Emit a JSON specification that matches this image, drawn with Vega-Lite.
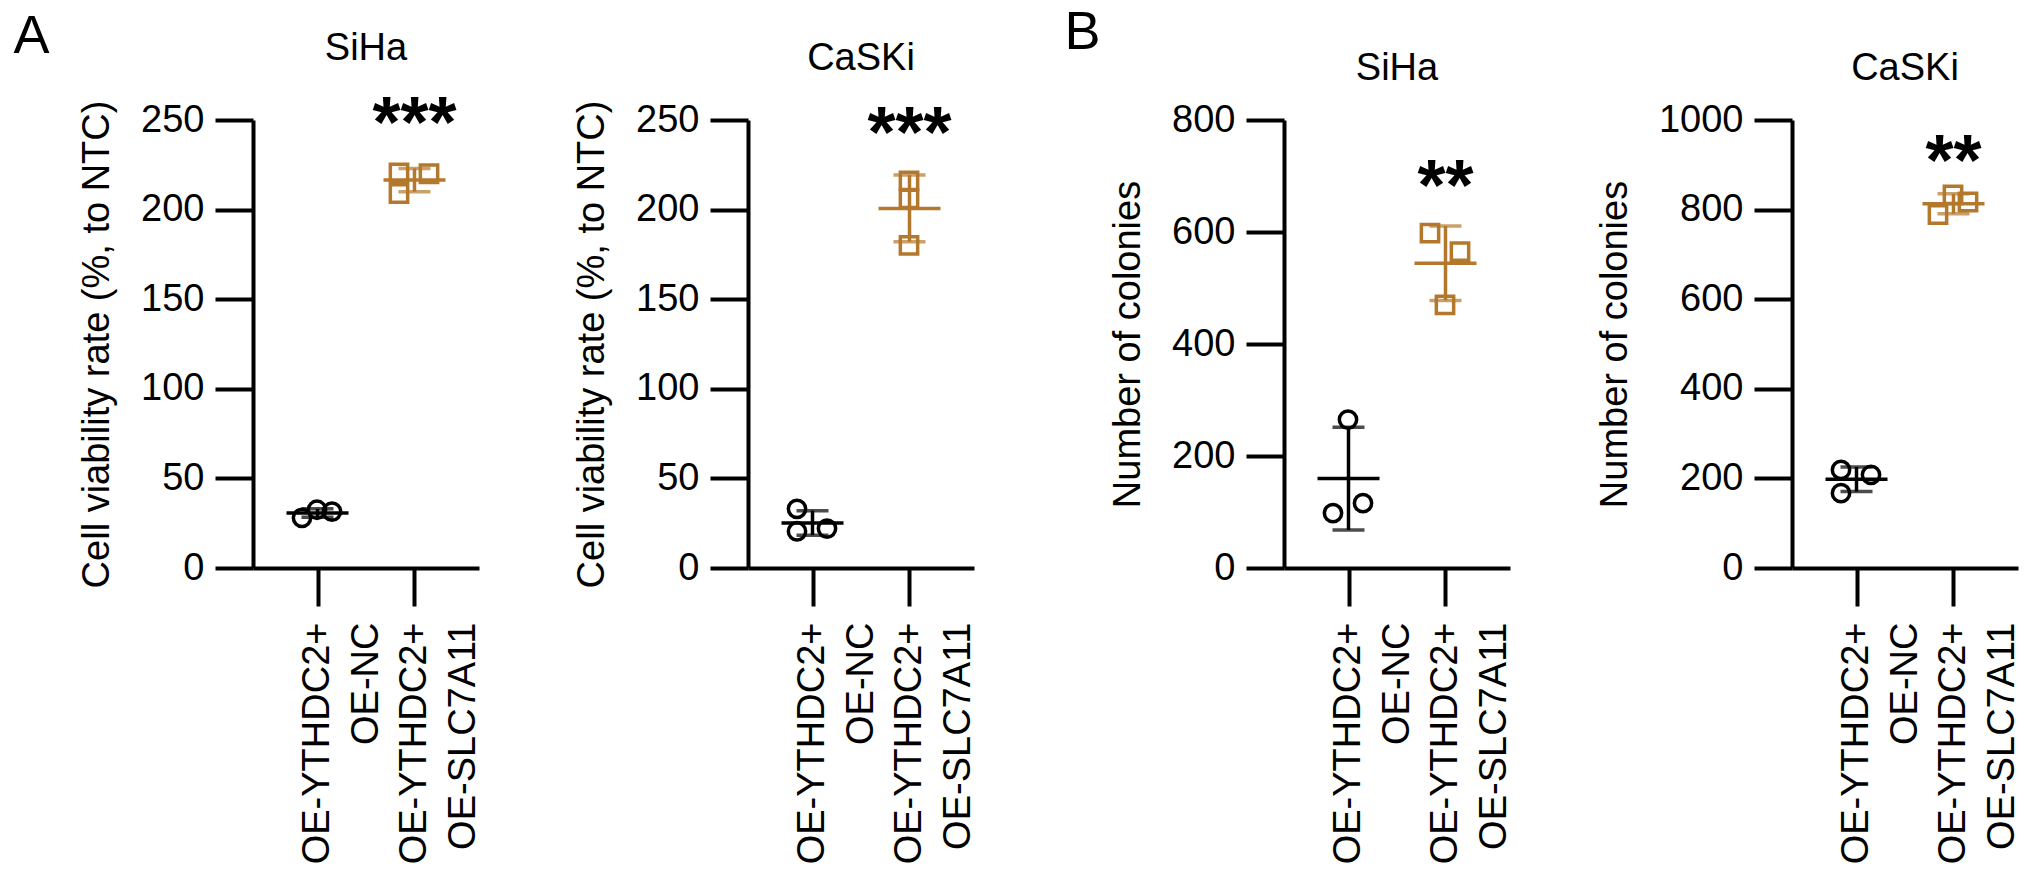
{
  "$schema": "https://vega.github.io/schema/vega-lite/v6.json",
  "padding": {"left": 13, "top": 6, "right": 5, "bottom": 5},
  "background": "white",
  "datasets": {
    "obs": [
      {"panel": "A1", "group": "OE-YTHDC2+|OE-NC", "slot": "L", "value": 28},
      {"panel": "A1", "group": "OE-YTHDC2+|OE-NC", "slot": "C", "value": 32.5},
      {"panel": "A1", "group": "OE-YTHDC2+|OE-NC", "slot": "R", "value": 31.5},
      {"panel": "A1", "group": "OE-YTHDC2+|OE-SLC7A11", "slot": "L", "value": 220.5},
      {"panel": "A1", "group": "OE-YTHDC2+|OE-SLC7A11", "slot": "L", "value": 209},
      {"panel": "A1", "group": "OE-YTHDC2+|OE-SLC7A11", "slot": "R", "value": 220},
      {"panel": "A2", "group": "OE-YTHDC2+|OE-NC", "slot": "L", "value": 33},
      {"panel": "A2", "group": "OE-YTHDC2+|OE-NC", "slot": "L", "value": 20.5},
      {"panel": "A2", "group": "OE-YTHDC2+|OE-NC", "slot": "R", "value": 22},
      {"panel": "A2", "group": "OE-YTHDC2+|OE-SLC7A11", "slot": "C", "value": 216},
      {"panel": "A2", "group": "OE-YTHDC2+|OE-SLC7A11", "slot": "C", "value": 206},
      {"panel": "A2", "group": "OE-YTHDC2+|OE-SLC7A11", "slot": "C", "value": 180},
      {"panel": "B1", "group": "OE-YTHDC2+|OE-NC", "slot": "C", "value": 265},
      {"panel": "B1", "group": "OE-YTHDC2+|OE-NC", "slot": "L", "value": 98},
      {"panel": "B1", "group": "OE-YTHDC2+|OE-NC", "slot": "R", "value": 116},
      {"panel": "B1", "group": "OE-YTHDC2+|OE-SLC7A11", "slot": "L", "value": 598},
      {"panel": "B1", "group": "OE-YTHDC2+|OE-SLC7A11", "slot": "R", "value": 565},
      {"panel": "B1", "group": "OE-YTHDC2+|OE-SLC7A11", "slot": "C", "value": 470},
      {"panel": "B2", "group": "OE-YTHDC2+|OE-NC", "slot": "L", "value": 219},
      {"panel": "B2", "group": "OE-YTHDC2+|OE-NC", "slot": "L", "value": 167},
      {"panel": "B2", "group": "OE-YTHDC2+|OE-NC", "slot": "R", "value": 208},
      {"panel": "B2", "group": "OE-YTHDC2+|OE-SLC7A11", "slot": "C", "value": 833},
      {"panel": "B2", "group": "OE-YTHDC2+|OE-SLC7A11", "slot": "R", "value": 817},
      {"panel": "B2", "group": "OE-YTHDC2+|OE-SLC7A11", "slot": "L", "value": 789}
    ],
    "stars": [
      {"panel": "A1", "group": "OE-YTHDC2+|OE-SLC7A11", "label": "***", "y": 235},
      {"panel": "A2", "group": "OE-YTHDC2+|OE-SLC7A11", "label": "***", "y": 229.5},
      {"panel": "B1", "group": "OE-YTHDC2+|OE-SLC7A11", "label": "**", "y": 640},
      {"panel": "B2", "group": "OE-YTHDC2+|OE-SLC7A11", "label": "**", "y": 854}
    ]
  },
  "spacing": 86,
  "resolve": {"scale": {"x": "independent", "y": "independent"}},
  "hconcat": [
    {
      "title": {"text": "A", "fontSize": 54, "anchor": "start", "frame": "bounds", "dx": -65, "offset": -34.5},
      "spacing": 90,
      "resolve": {"scale": {"x": "independent", "y": "independent"}},
      "hconcat": [
        {
          "width": 226, "height": 448,
          "title": {"text": "SiHa", "offset": 21, "frame": "group", "anchor": "middle"},
          "layer": [
            {
              "data": {"name": "obs"}, "transform": [{"filter": "datum.panel === 'A1'"}],
              "mark": {"type": "point", "filled": false, "strokeWidth": 3.5, "size": 300, "opacity": 1},
              "encoding": {
                "x": {"field": "group", "type": "nominal", "title": null, "scale": {"type": "point", "padding": 0.665, "domain": ["OE-YTHDC2+|OE-NC", "OE-YTHDC2+|OE-SLC7A11"]}, "axis": {"labelExpr": "split(datum.label, '|')", "title": null}},
                "xOffset": {"field": "slot", "type": "nominal", "scale": {"type": "point", "domain": ["L", "C", "R"], "range": [-23, 22]}},
                "y": {"field": "value", "type": "quantitative", "title": "Cell viability rate (%, to NTC)", "scale": {"domain": [0, 250], "nice": false}, "axis": {"title": "Cell viability rate (%, to NTC)", "values": [0, 50, 100, 150, 200, 250], "format": "d"}},
                "color": {"field": "group", "type": "nominal", "scale": {"domain": ["OE-YTHDC2+|OE-NC", "OE-YTHDC2+|OE-SLC7A11"], "range": ["#000000", "#b4782c"]}, "legend": null},
                "shape": {"field": "group", "type": "nominal", "scale": {"domain": ["OE-YTHDC2+|OE-NC", "OE-YTHDC2+|OE-SLC7A11"], "range": ["circle", "square"]}, "legend": null}
              }
            },
            {
              "data": {"name": "obs"}, "transform": [{"filter": "datum.panel === 'A1'"}],
              "mark": {"type": "tick", "size": 62, "thickness": 3.5, "opacity": 1},
              "encoding": {
                "x": {"field": "group", "type": "nominal", "title": null},
                "y": {"aggregate": "mean", "field": "value", "type": "quantitative", "title": "Cell viability rate (%, to NTC)"},
                "color": {"field": "group", "type": "nominal", "legend": null}
              }
            },
            {
              "data": {"name": "obs"}, "transform": [{"filter": "datum.panel === 'A1'"}],
              "mark": {"type": "errorbar", "extent": "stdev", "thickness": 3.5, "ticks": {"size": 32, "thickness": 3.5}},
              "encoding": {
                "x": {"field": "group", "type": "nominal", "title": null},
                "y": {"field": "value", "type": "quantitative", "title": "Cell viability rate (%, to NTC)"},
                "color": {"field": "group", "type": "nominal", "legend": null}
              }
            },
            {
              "data": {"name": "stars"}, "transform": [{"filter": "datum.panel === 'A1'"}],
              "mark": {"type": "text", "fontSize": 72, "fontWeight": "bold", "baseline": "alphabetic", "align": "center", "color": "#000000"},
              "encoding": {
                "x": {"field": "group", "type": "nominal", "title": null},
                "y": {"field": "y", "type": "quantitative", "title": "Cell viability rate (%, to NTC)"},
                "text": {"field": "label"}
              }
            }
          ]
        },
        {
          "width": 226, "height": 448,
          "title": {"text": "CaSKi", "offset": 21, "frame": "group", "anchor": "middle"},
          "layer": [
            {
              "data": {"name": "obs"}, "transform": [{"filter": "datum.panel === 'A2'"}],
              "mark": {"type": "point", "filled": false, "strokeWidth": 3.5, "size": 300, "opacity": 1},
              "encoding": {
                "x": {"field": "group", "type": "nominal", "title": null, "scale": {"type": "point", "padding": 0.665, "domain": ["OE-YTHDC2+|OE-NC", "OE-YTHDC2+|OE-SLC7A11"]}, "axis": {"labelExpr": "split(datum.label, '|')", "title": null}},
                "xOffset": {"field": "slot", "type": "nominal", "scale": {"type": "point", "domain": ["L", "C", "R"], "range": [-23, 22]}},
                "y": {"field": "value", "type": "quantitative", "title": "Cell viability rate (%, to NTC)", "scale": {"domain": [0, 250], "nice": false}, "axis": {"title": "Cell viability rate (%, to NTC)", "values": [0, 50, 100, 150, 200, 250], "format": "d"}},
                "color": {"field": "group", "type": "nominal", "scale": {"domain": ["OE-YTHDC2+|OE-NC", "OE-YTHDC2+|OE-SLC7A11"], "range": ["#000000", "#b4782c"]}, "legend": null},
                "shape": {"field": "group", "type": "nominal", "scale": {"domain": ["OE-YTHDC2+|OE-NC", "OE-YTHDC2+|OE-SLC7A11"], "range": ["circle", "square"]}, "legend": null}
              }
            },
            {
              "data": {"name": "obs"}, "transform": [{"filter": "datum.panel === 'A2'"}],
              "mark": {"type": "tick", "size": 62, "thickness": 3.5, "opacity": 1},
              "encoding": {
                "x": {"field": "group", "type": "nominal", "title": null},
                "y": {"aggregate": "mean", "field": "value", "type": "quantitative", "title": "Cell viability rate (%, to NTC)"},
                "color": {"field": "group", "type": "nominal", "legend": null}
              }
            },
            {
              "data": {"name": "obs"}, "transform": [{"filter": "datum.panel === 'A2'"}],
              "mark": {"type": "errorbar", "extent": "stdev", "thickness": 3.5, "ticks": {"size": 32, "thickness": 3.5}},
              "encoding": {
                "x": {"field": "group", "type": "nominal", "title": null},
                "y": {"field": "value", "type": "quantitative", "title": "Cell viability rate (%, to NTC)"},
                "color": {"field": "group", "type": "nominal", "legend": null}
              }
            },
            {
              "data": {"name": "stars"}, "transform": [{"filter": "datum.panel === 'A2'"}],
              "mark": {"type": "text", "fontSize": 72, "fontWeight": "bold", "baseline": "alphabetic", "align": "center", "color": "#000000"},
              "encoding": {
                "x": {"field": "group", "type": "nominal", "title": null},
                "y": {"field": "y", "type": "quantitative", "title": "Cell viability rate (%, to NTC)"},
                "text": {"field": "label"}
              }
            }
          ]
        }
      ]
    },
    {
      "title": {"text": "B", "fontSize": 54, "anchor": "start", "frame": "bounds", "dx": -45, "offset": -10.5},
      "spacing": 82,
      "resolve": {"scale": {"x": "independent", "y": "independent"}},
      "hconcat": [
        {
          "width": 226, "height": 448,
          "title": {"text": "SiHa", "offset": 13.5, "frame": "group", "anchor": "middle"},
          "layer": [
            {
              "data": {"name": "obs"}, "transform": [{"filter": "datum.panel === 'B1'"}],
              "mark": {"type": "point", "filled": false, "strokeWidth": 3.5, "size": 300, "opacity": 1},
              "encoding": {
                "x": {"field": "group", "type": "nominal", "title": null, "scale": {"type": "point", "padding": 0.665, "domain": ["OE-YTHDC2+|OE-NC", "OE-YTHDC2+|OE-SLC7A11"]}, "axis": {"labelExpr": "split(datum.label, '|')", "title": null}},
                "xOffset": {"field": "slot", "type": "nominal", "scale": {"type": "point", "domain": ["L", "C", "R"], "range": [-23, 22]}},
                "y": {"field": "value", "type": "quantitative", "title": "Number of colonies", "scale": {"domain": [0, 800], "nice": false}, "axis": {"title": "Number of colonies", "values": [0, 200, 400, 600, 800], "format": "d"}},
                "color": {"field": "group", "type": "nominal", "scale": {"domain": ["OE-YTHDC2+|OE-NC", "OE-YTHDC2+|OE-SLC7A11"], "range": ["#000000", "#b4782c"]}, "legend": null},
                "shape": {"field": "group", "type": "nominal", "scale": {"domain": ["OE-YTHDC2+|OE-NC", "OE-YTHDC2+|OE-SLC7A11"], "range": ["circle", "square"]}, "legend": null}
              }
            },
            {
              "data": {"name": "obs"}, "transform": [{"filter": "datum.panel === 'B1'"}],
              "mark": {"type": "tick", "size": 62, "thickness": 3.5, "opacity": 1},
              "encoding": {
                "x": {"field": "group", "type": "nominal", "title": null},
                "y": {"aggregate": "mean", "field": "value", "type": "quantitative", "title": "Number of colonies"},
                "color": {"field": "group", "type": "nominal", "legend": null}
              }
            },
            {
              "data": {"name": "obs"}, "transform": [{"filter": "datum.panel === 'B1'"}],
              "mark": {"type": "errorbar", "extent": "stdev", "thickness": 3.5, "ticks": {"size": 32, "thickness": 3.5}},
              "encoding": {
                "x": {"field": "group", "type": "nominal", "title": null},
                "y": {"field": "value", "type": "quantitative", "title": "Number of colonies"},
                "color": {"field": "group", "type": "nominal", "legend": null}
              }
            },
            {
              "data": {"name": "stars"}, "transform": [{"filter": "datum.panel === 'B1'"}],
              "mark": {"type": "text", "fontSize": 72, "fontWeight": "bold", "baseline": "alphabetic", "align": "center", "color": "#000000"},
              "encoding": {
                "x": {"field": "group", "type": "nominal", "title": null},
                "y": {"field": "y", "type": "quantitative", "title": "Number of colonies"},
                "text": {"field": "label"}
              }
            }
          ]
        },
        {
          "width": 226, "height": 448,
          "title": {"text": "CaSKi", "offset": 13.5, "frame": "group", "anchor": "middle"},
          "layer": [
            {
              "data": {"name": "obs"}, "transform": [{"filter": "datum.panel === 'B2'"}],
              "mark": {"type": "point", "filled": false, "strokeWidth": 3.5, "size": 300, "opacity": 1},
              "encoding": {
                "x": {"field": "group", "type": "nominal", "title": null, "scale": {"type": "point", "padding": 0.665, "domain": ["OE-YTHDC2+|OE-NC", "OE-YTHDC2+|OE-SLC7A11"]}, "axis": {"labelExpr": "split(datum.label, '|')", "title": null}},
                "xOffset": {"field": "slot", "type": "nominal", "scale": {"type": "point", "domain": ["L", "C", "R"], "range": [-23, 22]}},
                "y": {"field": "value", "type": "quantitative", "title": "Number of colonies", "scale": {"domain": [0, 1000], "nice": false}, "axis": {"title": "Number of colonies", "values": [0, 200, 400, 600, 800, 1000], "format": "d"}},
                "color": {"field": "group", "type": "nominal", "scale": {"domain": ["OE-YTHDC2+|OE-NC", "OE-YTHDC2+|OE-SLC7A11"], "range": ["#000000", "#b4782c"]}, "legend": null},
                "shape": {"field": "group", "type": "nominal", "scale": {"domain": ["OE-YTHDC2+|OE-NC", "OE-YTHDC2+|OE-SLC7A11"], "range": ["circle", "square"]}, "legend": null}
              }
            },
            {
              "data": {"name": "obs"}, "transform": [{"filter": "datum.panel === 'B2'"}],
              "mark": {"type": "tick", "size": 62, "thickness": 3.5, "opacity": 1},
              "encoding": {
                "x": {"field": "group", "type": "nominal", "title": null},
                "y": {"aggregate": "mean", "field": "value", "type": "quantitative", "title": "Number of colonies"},
                "color": {"field": "group", "type": "nominal", "legend": null}
              }
            },
            {
              "data": {"name": "obs"}, "transform": [{"filter": "datum.panel === 'B2'"}],
              "mark": {"type": "errorbar", "extent": "stdev", "thickness": 3.5, "ticks": {"size": 32, "thickness": 3.5}},
              "encoding": {
                "x": {"field": "group", "type": "nominal", "title": null},
                "y": {"field": "value", "type": "quantitative", "title": "Number of colonies"},
                "color": {"field": "group", "type": "nominal", "legend": null}
              }
            },
            {
              "data": {"name": "stars"}, "transform": [{"filter": "datum.panel === 'B2'"}],
              "mark": {"type": "text", "fontSize": 72, "fontWeight": "bold", "baseline": "alphabetic", "align": "center", "color": "#000000"},
              "encoding": {
                "x": {"field": "group", "type": "nominal", "title": null},
                "y": {"field": "y", "type": "quantitative", "title": "Number of colonies"},
                "text": {"field": "label"}
              }
            }
          ]
        }
      ]
    }
  ],
  "config": {
    "font": "Liberation Sans",
    "view": {"stroke": null},
    "axis": {
      "domainColor": "#000000", "domainWidth": 4, "tickColor": "#000000", "tickWidth": 4, "tickSize": 38,
      "labelColor": "#000000", "labelFontSize": 38, "labelFont": "Liberation Sans", "labelLimit": 0,
      "titleColor": "#000000", "titleFontSize": 38, "titleFontWeight": "normal", "titleFont": "Liberation Sans",
      "grid": false, "labelOverlap": false, "labelFlush": false
    },
    "axisY": {"labelPadding": 11, "titlePadding": 24},
    "axisX": {"labelAngle": -90, "labelAlign": "right", "labelBaseline": "middle", "labelPadding": 16, "labelLineHeight": 49},
    "title": {"fontSize": 38, "fontWeight": "normal", "color": "#000000", "font": "Liberation Sans"}
  }
}
